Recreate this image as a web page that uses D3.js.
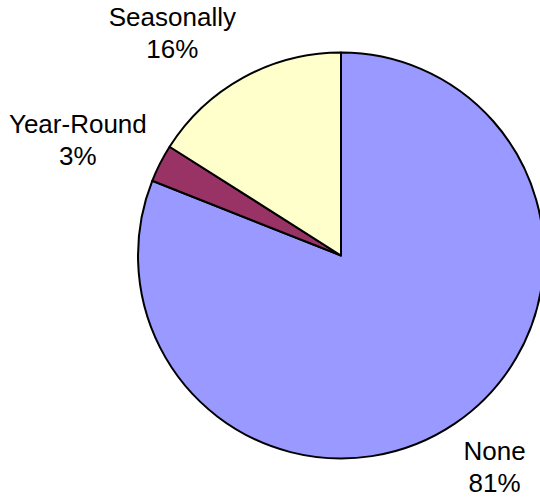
<!DOCTYPE html>
<html>
<head>
<meta charset="utf-8">
<script src="https://cdn.jsdelivr.net/npm/d3@7"></script>
<style>
  html, body { margin: 0; padding: 0; background: #fff; }
  svg { display: block; }
  text { font-family: "Liberation Sans", Arial, Helvetica, sans-serif; fill: #000; }
</style>
</head>
<body>
<svg id="chart" width="540" height="498"></svg>
<script>
// Share of respondents by watering schedule
const categories = ["None", "Year-Round", "Seasonally"];
const values = [81, 3, 16];
const colors = ["#9999FF", "#993366", "#FFFFCC"];

const width = 540, height = 498;
const cx = 341, cy = 255.5, radius = 203;
const labelGap = 15;
const fontSize = 26, lineHeight = 32;

const svg = d3.select("#chart");
const g = svg.append("g").attr("transform", `translate(${cx},${cy})`);

const pie = d3.pie().sort(null).value(d => d.value);
const arc = d3.arc().innerRadius(0).outerRadius(radius);

const data = categories.map((c, i) => ({ name: c, value: values[i], color: colors[i] }));
const arcs = pie(data);
const total = d3.sum(values);

g.selectAll("path.slice")
  .data(arcs)
  .join("path")
  .attr("class", "slice")
  .attr("d", arc)
  .attr("fill", d => d.data.color)
  .attr("stroke", "#000")
  .attr("stroke-width", 2)
  .attr("stroke-linejoin", "round");

// Labels sit outside the rim along each slice's mid-angle; the side of the
// box facing the pie is anchored there, easing toward the vertical middle
// for labels that lie closer to the horizontal.
const labels = g.selectAll("g.label")
  .data(arcs)
  .join("g")
  .attr("class", "label");

labels.each(function(d) {
  const sel = d3.select(this);
  const t = sel.append("text")
    .attr("text-anchor", "middle")
    .attr("font-size", fontSize);
  t.append("tspan").attr("x", 0).attr("y", 0).text(d.data.name);
  t.append("tspan").attr("x", 0).attr("y", lineHeight)
    .text(Math.round(d.data.value / total * 100) + "%");

  const bb = t.node().getBBox();
  const a = (d.startAngle + d.endAngle) / 2;
  const r = radius + labelGap;
  const sx = Math.sin(a), sy = -Math.cos(a);
  const px = r * sx, py = r * sy;
  const cornerX = sx >= 0 ? bb.x : bb.x + bb.width;
  const fy = Math.min(1, 0.5 + Math.abs(sy) * 0.6);
  const cornerY = sy >= 0 ? bb.y + bb.height * (1 - fy) : bb.y + bb.height * fy;
  sel.attr("transform", `translate(${px - cornerX},${py - cornerY})`);
});
</script>
</body>
</html>
